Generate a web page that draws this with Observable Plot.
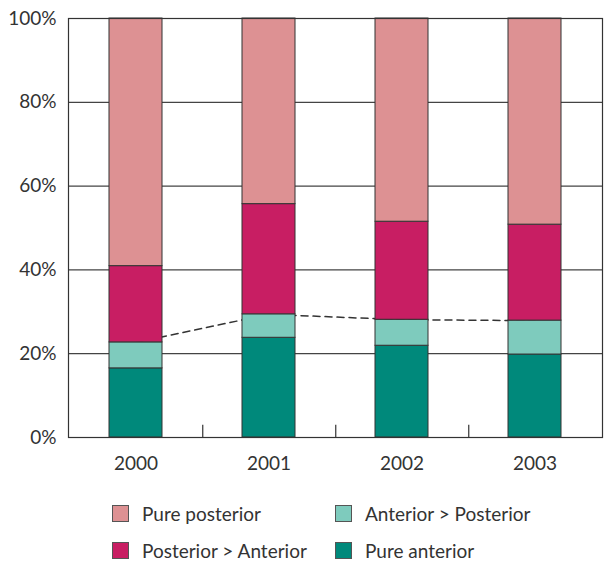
<!DOCTYPE html>
<html>
<head>
<meta charset="utf-8">
<script src="https://cdn.jsdelivr.net/npm/d3@7"></script>
<script src="https://cdn.jsdelivr.net/npm/@observablehq/plot@0.6"></script>
<style>
  html, body { margin: 0; padding: 0; background: #fff; }
  body { width: 612px; height: 575px; font-family: Lato, "Open Sans", sans-serif; color: #333; }
  #legend { display: grid; grid-template-columns: 223px 240px; row-gap: 15px; margin-left: 112px; margin-top: 17px; font-size: 19px; }
  .item { display: flex; align-items: center; height: 22px; }
  .sw { width: 17px; height: 17px; border: 1px solid #555; margin-right: 13px; box-sizing: border-box; }
</style>
</head>
<body>
<div id="chart"></div>
<div id="legend"></div>
<script>
const years = ["2000", "2001", "2002", "2003"];
const categories = ["Pure anterior", "Anterior > Posterior", "Posterior > Anterior", "Pure posterior"];
const pureAnterior = [16.5, 23.8, 21.9, 19.8];
const anteriorGtPosterior = [6.2, 5.6, 6.2, 8.1];
const posteriorGtAnterior = [18.2, 26.3, 23.4, 22.9];
const purePosterior = [59.1, 44.3, 48.5, 49.2];
const colors = ["#00897b", "#7ecbbd", "#c81e63", "#dd9193"];
const yTicks = [0, 20, 40, 60, 80, 100];
const legendOrder = ["Pure posterior", "Anterior > Posterior", "Posterior > Anterior", "Pure anterior"];

const series = [pureAnterior, anteriorGtPosterior, posteriorGtAnterior, purePosterior];
const rows = [];
years.forEach((yr, i) => {
  categories.forEach((c, j) => rows.push({year: yr, category: c, value: series[j][i]}));
});
const dashPts = years.map((yr, i) => ({year: yr, value: pureAnterior[i] + anteriorGtPosterior[i]}));

const W = 612, H = 485;
const mL = 68, mR = 10, mT = 18, mB = 48;
const bandStep = (W - mL - mR) / years.length;

const chart = Plot.plot({
  width: W, height: H,
  marginLeft: mL, marginRight: mR, marginTop: mT, marginBottom: mB,
  style: {fontFamily: "Lato, 'Open Sans', sans-serif", fontSize: "19px", color: "#333", background: "#fff"},
  x: {domain: years, paddingInner: 0.6, paddingOuter: 0.3, align: 0.5, label: null, tickSize: 0, tickPadding: 19},
  y: {domain: [0, 100], ticks: yTicks, tickFormat: d => d + "%", label: null, tickSize: 0, tickPadding: 12},
  color: {domain: categories, range: colors},
  marks: [
    Plot.ruleY(yTicks.slice(1, -1), {stroke: "#444", strokeWidth: 1.2}),
    Plot.line(dashPts, {x: "year", y: "value", stroke: "#333", strokeWidth: 1.5, strokeDasharray: "7,5"}),
    Plot.barY(rows, {x: "year", y: "value", fill: "category", stroke: "#333", strokeWidth: 1, order: categories}),
    Plot.ruleX(years.slice(0, -1), {x: d => d, dx: bandStep / 2, y1: 0, y2: 2.9, stroke: "#333", strokeWidth: 1.2}),
    Plot.frame({stroke: "#333", strokeWidth: 1.2})
  ]
});
document.getElementById("chart").appendChild(chart);

const leg = document.getElementById("legend");
legendOrder.forEach(name => {
  const d = document.createElement("div");
  d.className = "item";
  const s = document.createElement("span");
  s.className = "sw";
  s.style.background = colors[categories.indexOf(name)];
  const t = document.createElement("span");
  t.textContent = name;
  d.appendChild(s); d.appendChild(t);
  leg.appendChild(d);
});
</script>
</body>
</html>
